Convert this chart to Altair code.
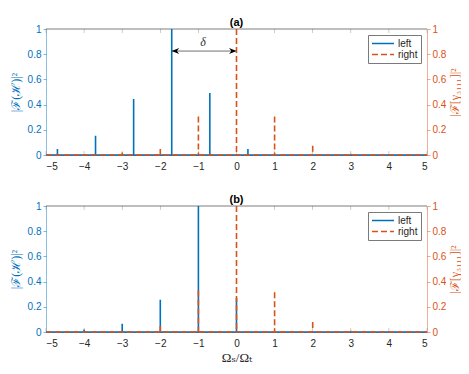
import altair as alt
import pandas as pd

BLUE = "#0072BD"
ORANGE = "#D95319"
GRAY = "#262626"

x_ticks = [-5, -4, -3, -2, -1, 0, 1, 2, 3, 4, 5]
y_ticks = [0, 0.2, 0.4, 0.6, 0.8, 1]

# panel (a)
a_left_x = [-4.7, -3.7, -2.7, -1.7, -0.7, 0.3]
a_left_h = [0.048, 0.153, 0.444, 1.0, 0.492, 0.048]
a_right_x = [-3, -2, -1, 0, 1, 2, 3]
a_right_h = [0.02, 0.048, 0.305, 1.0, 0.305, 0.074, 0.01]

# panel (b)
b_left_x = [-4, -3, -2, -1, 0]
b_left_h = [0.02, 0.066, 0.255, 1.0, 0.27]
b_right_x = [-2, -1, 0, 1, 2, 3]
b_right_h = [0.047, 0.33, 1.0, 0.315, 0.08, 0.01]

# delta annotation in panel (a)
arrow_from = [-1.7]
arrow_to = [0.0]
arrow_y = [0.825]
delta_label = ["δ"]
delta_x = [-0.88]
delta_y = [0.895]

W, H = 381, 126
SERIF = "Liberation Serif, DejaVu Serif, serif"
SANS = "Liberation Sans, Arial, sans-serif"


def xs():
    return alt.Scale(domain=[-5, 5], nice=False, zero=False)


def ys():
    return alt.Scale(domain=[0, 1], nice=False, zero=False)


def color_enc():
    return alt.Color(
        "series:N",
        scale=alt.Scale(domain=["left", "right"], range=[BLUE, ORANGE]),
        legend=alt.Legend(title=None),
    )


def dash_enc():
    return alt.StrokeDash(
        "series:N",
        scale=alt.Scale(domain=["left", "right"], range=[[1, 0], [6, 3]]),
        legend=alt.Legend(title=None),
    )


tick_df = pd.DataFrame({"t": x_ticks})


def panel(lx, lh, rx, rh, tag, bottom, arrow):
    dl = pd.DataFrame({"x": lx, "h": lh, "z": 0.0, "series": "left"})
    dr = pd.DataFrame({"x": rx, "h": rh, "z": 0.0, "series": "right"})
    edge = pd.DataFrame({"x0": [-5.0], "x1": [5.0], "y0": [0.0], "y1": [1.0]})

    xaxis_kw = dict(
        values=x_ticks, format="d", tickSize=0, labelPadding=6,
        labelFontSize=10, labelColor=GRAY, labelFont=SANS,
        domainColor=GRAY, domainWidth=0.6, grid=False,
    )
    if bottom:
        xaxis_kw.update(title="Ωₛ/Ωₜ", titleFont=SERIF, titleFontSize=13,
                        titleFontWeight="normal", titleColor=GRAY, titlePadding=3)
    else:
        xaxis_kw.update(title=None)

    def X(field):
        return alt.X(field, scale=xs(), axis=alt.Axis(**xaxis_kw))

    laxis = alt.Axis(
        values=y_ticks, format="~g", title="|ℱ(ℋ)|²", titleFont=SERIF,
        titleFontSize=12, titleFontWeight="normal", titleColor=BLUE,
        labelColor=BLUE, labelFontSize=10, labelFont=SANS, labelPadding=2,
        tickSize=3, tickColor=BLUE, tickOpacity=0.5, domainColor=BLUE,
        domainOpacity=0.45, titlePadding=5, grid=False,
    )
    raxis = alt.Axis(
        values=y_ticks, format="~g", orient="right", title="|ℱ[γ₃₁₁₁]|²",
        titleFont=SERIF, titleFontSize=12, titleFontWeight="normal",
        titleColor=ORANGE, titleAngle=270, titleBaseline="top",
        labelColor=ORANGE, labelFontSize=10,
        labelFont=SANS, labelPadding=2, tickSize=3, tickColor=ORANGE,
        tickOpacity=0.5, domainColor=ORANGE, domainOpacity=0.45,
        titlePadding=4, grid=False,
    )

    top_border = alt.Chart(edge).mark_rule(color=GRAY, strokeWidth=0.6).encode(
        x=X("x0:Q"), x2="x1:Q",
        y=alt.Y("y1:Q", scale=ys(), axis=None),
    )
    base_blue = alt.Chart(edge).mark_rule(color=BLUE, strokeWidth=1.5).encode(
        x=X("x0:Q"), x2="x1:Q",
        y=alt.Y("y0:Q", scale=ys(), axis=None),
    )
    ticks_bot = alt.Chart(tick_df).mark_tick(
        orient="vertical", size=4, thickness=0.6, color="#8a8a8a", yOffset=-2
    ).encode(
        x=X("t:Q"),
        y=alt.Y("z:Q", scale=ys(), axis=None),
    ).transform_calculate(z="0")
    ticks_top = alt.Chart(tick_df).mark_tick(
        orient="vertical", size=4, thickness=0.6, color="#8a8a8a", yOffset=2
    ).encode(
        x=X("t:Q"),
        y=alt.Y("z:Q", scale=ys(), axis=None),
    ).transform_calculate(z="1")
    spikes_blue = alt.Chart(dl).mark_rule(strokeWidth=1.6).encode(
        x=X("x:Q"),
        y=alt.Y("h:Q", scale=ys(), axis=laxis),
        y2="z:Q",
        color=color_enc(),
        strokeDash=dash_enc(),
    )
    layers = [ticks_bot, ticks_top, top_border, base_blue, spikes_blue]

    if arrow:
        adf = pd.DataFrame({"x0": arrow_from, "x1": arrow_to, "y": arrow_y})
        ddf = pd.DataFrame({"x": delta_x, "y": delta_y, "t": delta_label})
        aline = alt.Chart(adf).mark_rule(color="#333333", strokeWidth=0.7).encode(
            x=X("x0:Q"), x2="x1:Q",
            y=alt.Y("y:Q", scale=ys(), axis=None),
        )
        ahead_l = alt.Chart(adf).mark_point(
            shape="M0,0L1,-0.4L0.7,0L1,0.4Z", size=220, filled=True,
            color="black", opacity=1,
        ).encode(
            x=X("x0:Q"),
            y=alt.Y("y:Q", scale=ys(), axis=None),
        )
        ahead_r = alt.Chart(adf).mark_point(
            shape="M0,0L-1,-0.4L-0.7,0L-1,0.4Z", size=220, filled=True,
            color="black", opacity=1,
        ).encode(
            x=X("x1:Q"),
            y=alt.Y("y:Q", scale=ys(), axis=None),
        )
        dtext = alt.Chart(ddf).mark_text(
            font=SERIF, fontSize=12, fontStyle="italic", color="#333333"
        ).encode(
            x=X("x:Q"),
            y=alt.Y("y:Q", scale=ys(), axis=None),
            text="t:N",
        )
        layers += [aline, ahead_l, ahead_r, dtext]

    base_orange = alt.Chart(edge).mark_rule(
        color=ORANGE, strokeWidth=1.5, strokeDash=[6, 3]
    ).encode(
        x=X("x0:Q"), x2="x1:Q",
        y=alt.Y("y0:Q", scale=ys(), axis=None),
    )
    spikes_orange = alt.Chart(dr).mark_rule(strokeWidth=1.6).encode(
        x=X("x:Q"),
        y=alt.Y("h:Q", scale=ys(), axis=raxis),
        y2="z:Q",
        color=color_enc(),
        strokeDash=dash_enc(),
    )
    layers += [base_orange, spikes_orange]

    return alt.layer(*layers).resolve_scale(y="independent").properties(
        width=W, height=H,
        title=alt.TitleParams(tag, fontSize=11, fontWeight="bold", font=SANS,
                              anchor="middle", offset=-4, frame="group",
                              color="black"),
    )


pa = panel(a_left_x, a_left_h, a_right_x, a_right_h, "(a)", False, True)
pb = panel(b_left_x, b_left_h, b_right_x, b_right_h, "(b)", True, False)

chart = alt.vconcat(pa, pb, spacing=23).resolve_scale(
    color="independent", strokeDash="independent"
).configure_view(stroke=None).configure_legend(
    orient="top-right", offset=6, strokeColor="#7a7a7a", fillColor="white",
    padding=3, labelFontSize=10, labelFont=SANS, labelColor=GRAY,
    symbolType="stroke", symbolSize=484, symbolStrokeWidth=1.6,
    rowPadding=0, cornerRadius=0, labelOffset=3, clipHeight=11,
).properties(padding={"left": 1, "top": 9, "right": 0, "bottom": 0})

chart.save("out.html", embed_options={"renderer": "svg", "actions": False})
